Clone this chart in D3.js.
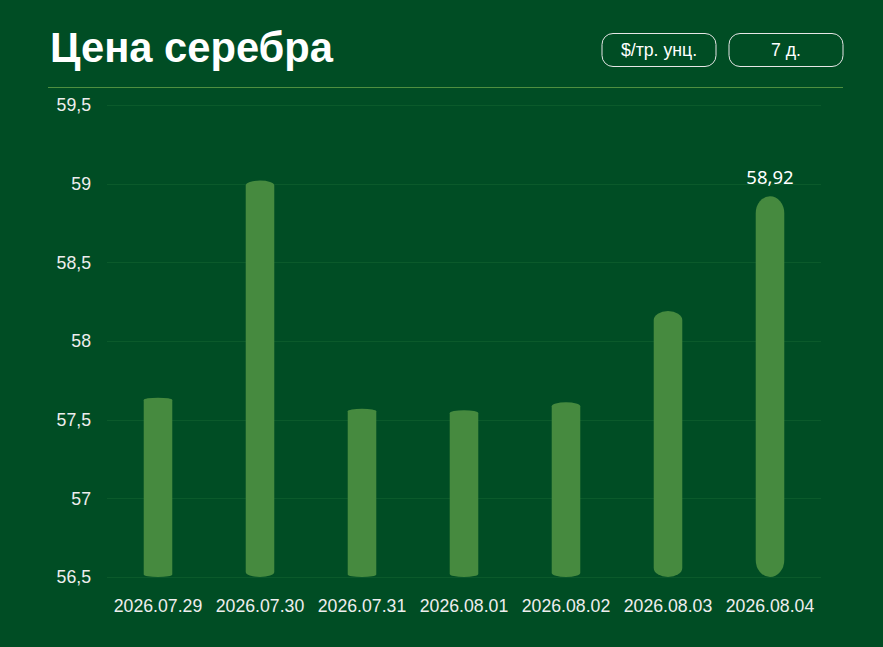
<!DOCTYPE html>
<html>
<head>
<meta charset="utf-8">
<script src="https://cdn.jsdelivr.net/npm/d3@7"></script>
<style>
	html, body { margin: 0; padding: 0; background: #004d24; }
	#wrapper { width: 883px; height: 647px; }
</style>
</head>
<body>
<div id="wrapper"></div>
<script>
// data
const dates = ["2026.07.29", "2026.07.30", "2026.07.31", "2026.08.01", "2026.08.02", "2026.08.03", "2026.08.04"];
const prices = [57.64, 59.02, 57.57, 57.56, 57.61, 58.19, 58.92];
const yTicks = [56.5, 57, 57.5, 58, 58.5, 59, 59.5];
const buttons = ["$/тр. унц.", "7 д."];
const titleText = "Цена серебра";

function drawBarChart() {

	const dimensions = {
		width: 883,
		height: 647,
		margin: { top: 105, right: 62, bottom: 70, left: 107 }
	};
	dimensions.boundedWidth = dimensions.width - dimensions.margin.left - dimensions.margin.right;
	dimensions.boundedHeight = dimensions.height - dimensions.margin.top - dimensions.margin.bottom;

	const font = "'Liberation Sans', Arial, sans-serif";

	const wrapper = d3.select("#wrapper")
		.append("svg")
		.attr("width", dimensions.width)
		.attr("height", dimensions.height);

	wrapper.append("rect")
		.attr("width", dimensions.width)
		.attr("height", dimensions.height)
		.attr("fill", "#004d24");

	// header
	wrapper.append("text")
		.attr("x", 50)
		.attr("y", 62)
		.attr("fill", "#ffffff")
		.style("font-family", font)
		.style("font-weight", "bold")
		.style("font-size", "41.7px")
		.text(titleText);

	const btn = wrapper.selectAll(".btn")
		.data(buttons)
		.join("g")
		.attr("class", "btn")
		.attr("transform", (d, i) => `translate(${602 + i * 127},33.5)`);

	btn.append("rect")
		.attr("width", 114)
		.attr("height", 33)
		.attr("rx", 11)
		.attr("fill", "none")
		.attr("stroke", "#e6e6e6")
		.attr("stroke-width", 1);

	btn.append("text")
		.attr("x", 57)
		.attr("y", 22.5)
		.attr("text-anchor", "middle")
		.attr("fill", "#ffffff")
		.style("font-family", font)
		.style("font-size", "17.7px")
		.text(d => d);

	wrapper.append("line")
		.attr("x1", 48)
		.attr("x2", 843)
		.attr("y1", 87.5)
		.attr("y2", 87.5)
		.attr("stroke", "#4f8f40")
		.attr("stroke-width", 1);

	const bounds = wrapper.append("g")
		.attr("transform", `translate(${dimensions.margin.left},${dimensions.margin.top})`);

	// scales
	const xScale = d3.scaleBand()
		.domain(dates)
		.range([0, dimensions.boundedWidth])
		.paddingInner(0.72)
		.paddingOuter(0.36);

	const yScale = d3.scaleLinear()
		.domain([56.5, 59.5])
		.range([dimensions.boundedHeight, 0]);

	// gridlines
	bounds.append("g")
		.selectAll("line")
		.data(yTicks)
		.join("line")
		.attr("x1", 0)
		.attr("x2", dimensions.boundedWidth)
		.attr("y1", d => Math.round(yScale(d)) + 0.5)
		.attr("y2", d => Math.round(yScale(d)) + 0.5)
		.attr("stroke", "#0b5a2b")
		.attr("stroke-width", 1);

	// bars (corner roundness differs per bar in the reference)
	const cornerRy = [2.5, 5, 2.5, 3, 4, 9, 17];

	bounds.append("g")
		.selectAll("rect")
		.data(prices)
		.join("rect")
		.attr("x", (d, i) => xScale(dates[i]))
		.attr("width", xScale.bandwidth())
		.attr("y", d => yScale(d))
		.attr("height", d => yScale(56.5) - yScale(d))
		.attr("rx", xScale.bandwidth() / 2)
		.attr("ry", (d, i) => cornerRy[i])
		.attr("fill", "#468a3f");

	// value label on the last bar
	const last = prices.length - 1;
	bounds.append("text")
		.attr("x", xScale(dates[last]) + xScale.bandwidth() / 2)
		.attr("y", yScale(prices[last]) - 12)
		.attr("text-anchor", "middle")
		.attr("fill", "#ffffff")
		.style("font-family", "'Noto Sans', sans-serif")
		.style("font-size", "18.5px")
		.text(d3.format(".2f")(prices[last]).replace(".", ","));

	// axes
	const yAxisGenerator = d3.axisLeft(yScale)
		.tickValues(yTicks)
		.tickSize(0)
		.tickPadding(16)
		.tickFormat(d => String(d).replace(".", ","));

	const yAxis = bounds.append("g").call(yAxisGenerator);
	yAxis.select(".domain").remove();
	yAxis.selectAll("text")
		.attr("fill", "#eeeeee")
		.style("font-family", font)
		.style("font-size", "17.7px");

	const xAxisGenerator = d3.axisBottom(xScale)
		.tickSize(0)
		.tickPadding(22);

	const xAxis = bounds.append("g")
		.attr("transform", `translate(0,${dimensions.boundedHeight})`)
		.call(xAxisGenerator);
	xAxis.select(".domain").remove();
	xAxis.selectAll("text")
		.attr("fill", "#eeeeee")
		.style("font-family", font)
		.style("font-size", "17.7px");
}

drawBarChart();
</script>
</body>
</html>
